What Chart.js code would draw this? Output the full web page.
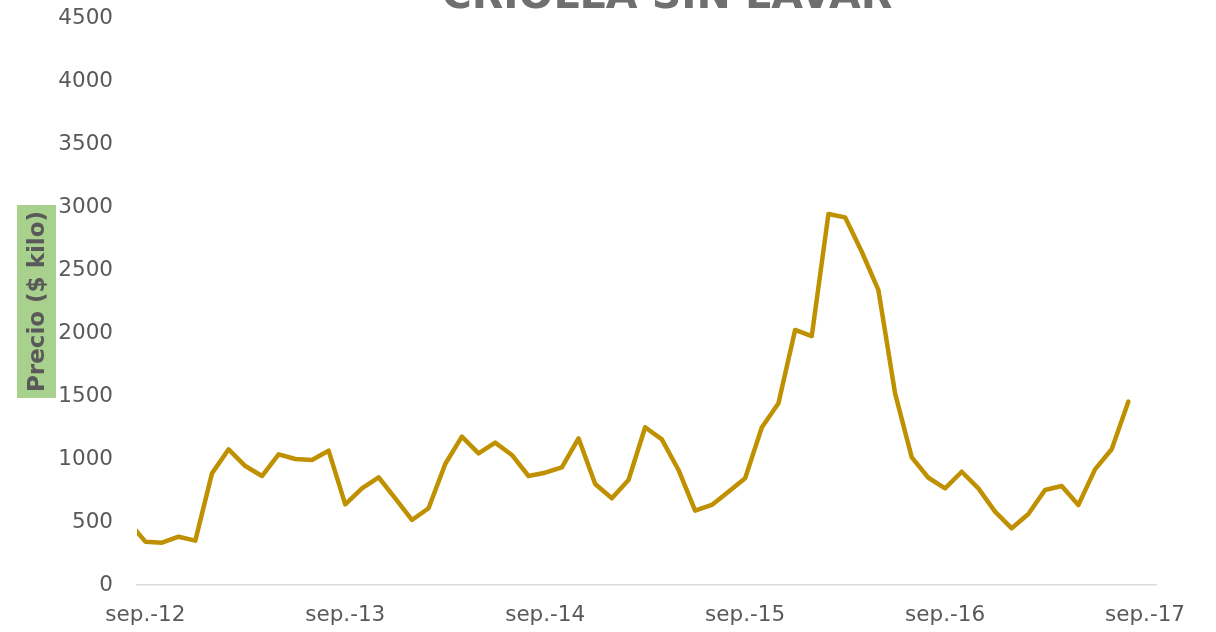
<!DOCTYPE html>
<html>
<head>
<meta charset="utf-8">
<script src="https://cdn.jsdelivr.net/npm/chart.js@4/dist/chart.umd.min.js"></script>
<style>
  html, body { margin: 0; padding: 0; background: #ffffff; overflow: hidden; }
  #wrap { position: absolute; left: 0; top: 0; width: 1216px; height: 632px; }
</style>
</head>
<body>
<div id="wrap"><canvas id="c" width="1216" height="632"></canvas></div>
<script>
// ---- Data (monthly prices, $ per kilo) ----
const titulo = 'CRIOLLA SIN LAVAR';
const ejeY = 'Precio ($ kilo)';

// month offset relative to sep.-12 (ago.-12 = -1 ... ago.-17 = 59)
const meses = [-1,0,1,2,3,4,5,6,7,8,9,10,11,12,13,14,15,16,17,18,19,20,21,22,23,24,25,26,27,28,29,
  30,31,32,33,34,35,36,37,38,39,40,41,42,43,44,45,46,47,48,49,50,51,52,53,54,55,56,57,58,59];

const precios = [500,344,336,383,352,886,1077,944,865,1037,1000,992,1066,640,767,855,688,516,609,960,1177,
  1045,1130,1032,865,891,934,1164,802,688,833,1252,1156,913,590,635,741,847,1250,1442,2024,
  1976,2945,2918,2645,2341,1521,1013,851,767,899,767,582,450,563,754,786,635,918,1077,1455];

const posTicksX = [0, 12, 24, 36, 48, 60];
const etiquetasX = ['sep.-12', 'sep.-13', 'sep.-14', 'sep.-15', 'sep.-16', 'sep.-17'];

const yMin = 0, yMax = 4500, yPaso = 500;

// ---- Chart ----
const puntos = meses.map((m, i) => ({ x: m, y: precios[i] }));

const decor = {
  id: 'decor',
  afterDraw(chart) {
    const ctx = chart.ctx;
    ctx.save();
    // title (partially cut at the top, as in the reference)
    ctx.fillStyle = '#6f6f6f';
    ctx.font = 'bold 41px "DejaVu Sans"';
    ctx.textAlign = 'center';
    ctx.textBaseline = 'alphabetic';
    ctx.fillText(titulo, 667, 7.5);
    // y-axis title with green box
    ctx.fillStyle = '#a9d18e';
    ctx.fillRect(17, 205, 39, 193);
    ctx.translate(37, 301.5);
    ctx.rotate(-Math.PI / 2);
    ctx.fillStyle = '#595959';
    ctx.font = 'bold 23px "DejaVu Sans"';
    ctx.textAlign = 'center';
    ctx.textBaseline = 'middle';
    ctx.fillText(ejeY, 0, 1);
    ctx.restore();
  }
};

new Chart(document.getElementById('c'), {
  type: 'line',
  data: {
    datasets: [{
      data: puntos,
      borderColor: '#bf9000',
      borderWidth: 4.5,
      pointRadius: 0,
      tension: 0,
      fill: false,
      clip: 0,
      borderJoinStyle: 'round',
      borderCapStyle: 'round'
    }]
  },
  options: {
    responsive: false,
    devicePixelRatio: 1,
    animation: false,
    layout: { padding: { left: 0, right: 60, top: 18, bottom: 0 } },
    plugins: { legend: { display: false }, title: { display: false }, tooltip: { enabled: false } },
    scales: {
      x: {
        type: 'linear',
        min: -0.5,
        max: 60.66,
        grid: { display: false, drawTicks: false },
        border: { display: true, color: '#d9d9d9', width: 1.5 },
        afterBuildTicks(scale) { scale.ticks = posTicksX.map(v => ({ value: v })); },
        afterFit(scale) { scale.height = 47; },
        ticks: {
          color: '#595959',
          font: { family: '"DejaVu Sans"', size: 21.5 },
          padding: 18,
          maxRotation: 0,
          autoSkip: false,
          callback(v) { const i = posTicksX.indexOf(v); return i >= 0 ? etiquetasX[i] : ''; }
        }
      },
      y: {
        min: yMin,
        max: yMax,
        grid: { display: true, drawOnChartArea: false, drawTicks: true, tickLength: 24, tickColor: 'rgba(0,0,0,0)' },
        border: { display: false },
        afterFit(scale) { scale.width = 137; },
        ticks: {
          stepSize: yPaso,
          color: '#595959',
          font: { family: '"DejaVu Sans"', size: 21.5 },
          padding: 0,
          callback(v) { return String(v); }
        }
      }
    }
  },
  plugins: [decor]
});
</script>
</body>
</html>
